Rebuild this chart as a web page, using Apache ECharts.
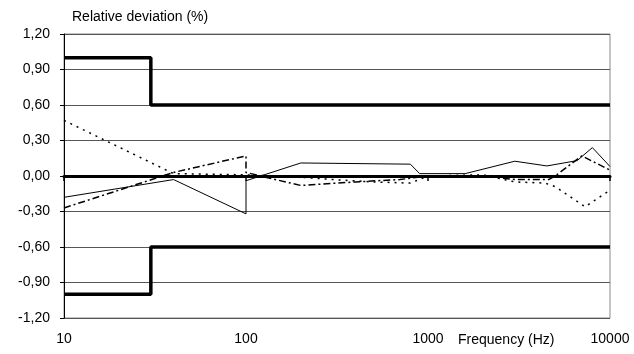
<!DOCTYPE html>
<html>
<head>
<meta charset="utf-8">
<script src="https://cdn.jsdelivr.net/npm/echarts@6/dist/echarts.min.js"></script>
<style>html,body{margin:0;padding:0;background:#fff}#c{width:634px;height:354px}</style>
</head>
<body>
<div id="c"></div>
<script>
// Tick labels
var xTicks = [10, 100, 1000, 10000];
var yTicks = [-1.2, -0.9, -0.6, -0.3, 0, 0.3, 0.6, 0.9, 1.2];

// Tolerance limits (step lines)
var upperFreq = [10, 30, 30, 10000];
var upperVal = [1.0, 1.0, 0.6, 0.6];
var lowerFreq = [10, 30, 30, 10000];
var lowerVal = [-1.0, -1.0, -0.6, -0.6];

// Solid measurement curve
var solidFreq = [10, 40, 100, 100, 200, 800, 900, 1600, 3000, 4500, 6600, 8000, 10000];
var solidVal = [-0.18, -0.03, -0.32, -0.04, 0.11, 0.10, 0.02, 0.02, 0.125, 0.085, 0.13, 0.24, 0.08];

// Dotted measurement curve
var dotFreq = [10, 40, 100, 200, 300, 500, 800, 1000, 2000, 3000, 4400, 5000, 7300, 10000];
var dotVal = [0.47, 0.02, 0.01, -0.01, -0.03, -0.05, -0.06, 0.0, 0.01, -0.05, -0.06, -0.09, -0.26, -0.12];

// Dash-dot measurement curve
var dashDotFreq = [10, 40, 100, 100, 120, 200, 400, 700, 1000, 2000, 3000, 4600, 5000, 7000, 10000];
var dashDotVal = [-0.27, 0.03, 0.17, 0.03, 0.0, -0.08, -0.05, -0.03, 0.0, 0.0, -0.03, -0.03, 0.0, 0.17, 0.05];

function pairs(xs, ys) { return xs.map(function (x, i) { return [x, ys[i]]; }); }
function fmtY(v) { if (Math.abs(v) < 1e-9) v = 0; return v.toFixed(2).replace('.', ','); }

var chart = echarts.init(document.getElementById('c'), null, { renderer: 'canvas' });
var font = 'Liberation Sans, Arial, sans-serif';
chart.setOption({
  animation: false,
  backgroundColor: '#fff',
  grid: { left: 64, right: 24, top: 34, bottom: 36, show: true, borderColor: '#8a8a8a', borderWidth: 1 },
  xAxis: [
    {
      type: 'log', logBase: 10, min: 10, max: 10000,
      axisLine: { show: true, onZero: true, lineStyle: { color: '#000', width: 3 } },
      axisTick: { show: true, length: 5, inside: false, lineStyle: { color: '#000', width: 1.5 } },
      axisLabel: { show: false },
      splitLine: { show: false }
    },
    {
      type: 'log', logBase: 10, min: 10, max: 10000, position: 'bottom',
      axisLine: { show: false, onZero: false },
      axisTick: { show: false },
      axisLabel: { show: true, margin: 14, color: '#000', fontSize: 14, fontFamily: font,
        formatter: function (v) { return xTicks.indexOf(Math.round(v)) >= 0 ? String(Math.round(v)) : ''; } },
      splitLine: { show: false }
    }
  ],
  yAxis: {
    type: 'value', min: -1.2, max: 1.2, interval: 0.3,
    axisLine: { show: true, lineStyle: { color: '#000', width: 1 } },
    axisTick: { show: true, length: 4, lineStyle: { color: '#000' } },
    axisLabel: { margin: 14, color: '#000', fontSize: 14, fontFamily: font, formatter: fmtY },
    splitLine: { show: true, lineStyle: { color: '#555', width: 1 } }
  },
  graphic: [
    { type: 'text', left: 72, top: 10, style: { text: 'Relative deviation (%)', font: '14px ' + font, fill: '#000' } },
    { type: 'text', left: 458, top: 333, style: { text: 'Frequency (Hz)', font: '14px ' + font, fill: '#000' } }
  ],
  series: [
    { type: 'line', xAxisIndex: 0, data: pairs(upperFreq, upperVal), symbol: 'none', lineStyle: { color: '#000', width: 3.5 }, z: 5 },
    { type: 'line', xAxisIndex: 0, data: pairs(lowerFreq, lowerVal), symbol: 'none', lineStyle: { color: '#000', width: 3.5 }, z: 5 },
    { type: 'line', xAxisIndex: 0, data: pairs(solidFreq, solidVal), symbol: 'none', lineStyle: { color: '#000', width: 1 }, z: 4 },
    { type: 'line', xAxisIndex: 0, data: pairs(dotFreq, dotVal), symbol: 'none', lineStyle: { color: '#000', width: 1.5, type: [2, 5] }, z: 4 },
    { type: 'line', xAxisIndex: 0, data: pairs(dashDotFreq, dashDotVal), symbol: 'none', lineStyle: { color: '#000', width: 1.5, type: [7, 3, 2, 3] }, z: 4 }
  ]
});
</script>
</body>
</html>
